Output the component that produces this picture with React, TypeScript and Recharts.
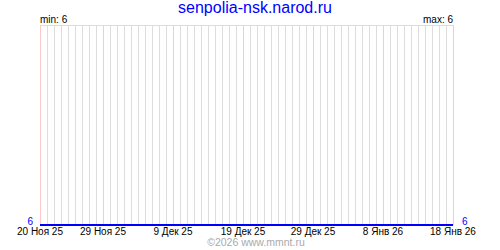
import React from "react"
import { LineChart, Line, XAxis, YAxis, ReferenceLine } from "recharts"

// daily counts, 20 Nov 25 .. 18 Jan 26
const values = [
  6, 6, 6, 6, 6, 6, 6, 6, 6, 6,
  6, 6, 6, 6, 6, 6, 6, 6, 6, 6,
  6, 6, 6, 6, 6, 6, 6, 6, 6, 6,
  6, 6, 6, 6, 6, 6, 6, 6, 6, 6,
  6, 6, 6, 6, 6, 6, 6, 6, 6, 6,
  6, 6, 6, 6, 6, 6, 6, 6, 6, 6,
]
const days = values.map((_, i) => i)
const tickDays = [0, 9, 19, 29, 39, 49, 59]
const tickLabels = ["20 Ноя 25", "29 Ноя 25", "9 Дек 25", "19 Дек 25", "29 Дек 25", "8 Янв 26", "18 Янв 26"]
const minValue = 6
const maxValue = 6

const data = days.map((d, i) => ({ day: d, v: values[i] }))
const font = "'Liberation Sans', Arial, sans-serif"

const LeftTick = ({ x, y, payload }: any) => (
  <text x={x} y={y} textAnchor="end" fill="#0000ff" fontSize={10} fontFamily={font}>
    {payload.value}
  </text>
)
const RightTick = ({ x, y, payload }: any) => (
  <text x={x} y={y} textAnchor="start" fill="#0000ff" fontSize={10} fontFamily={font}>
    {payload.value}
  </text>
)

// snap 1px lines onto the pixel grid
const CrispV = (p: any) => {
  const x = Math.round(p.x1) + 0.5
  return <line x1={x} x2={x} y1={p.y1} y2={p.y2} stroke={p.stroke} strokeWidth={1} />
}
const CrispH = (p: any) => {
  const y = Math.round(p.y1) + 0.5
  return <line x1={p.x1} x2={p.x2} y1={y} y2={y} stroke={p.stroke} strokeWidth={1} />
}

export default function App() {
  return (
    <div style={{ position: "absolute", left: 0, top: 0, width: 500, height: 250, background: "#fff" }}>
      <LineChart width={500} height={250} data={data} margin={{ top: 25, right: 0, bottom: 0, left: 0 }}>
        <XAxis
          dataKey="day"
          type="number"
          domain={[0, 59]}
          ticks={tickDays}
          interval={0}
          tickFormatter={(d) => tickLabels[tickDays.indexOf(d)]}
          axisLine={false}
          tickLine={false}
          tickSize={0}
          tickMargin={3}
          height={25}
          tick={{ fill: "#000", fontSize: 10, fontFamily: font }}
        />
        <YAxis
          yAxisId="l"
          domain={[6, 7]}
          ticks={[6]}
          width={40}
          axisLine={false}
          tickLine={false}
          tickSize={0}
          tickMargin={7}
          tick={<LeftTick />}
        />
        <YAxis
          yAxisId="r"
          orientation="right"
          domain={[6, 7]}
          ticks={[6]}
          width={47}
          axisLine={false}
          tickLine={false}
          tickSize={0}
          tickMargin={9}
          tick={<RightTick />}
        />
        {days.map((d) => (
          <ReferenceLine
            key={d}
            yAxisId="l"
            x={d}
            stroke={tickDays.includes(d) ? "#ffc8c8" : "#dddddd"}
            shape={CrispV}
          />
        ))}
        <ReferenceLine yAxisId="r" y={7} stroke="#dddddd" shape={CrispH} />
        <Line
          yAxisId="l"
          dataKey="v"
          stroke="#0000ff"
          strokeWidth={2}
          dot={false}
          isAnimationActive={false}
        />
        <Line
          yAxisId="r"
          dataKey="v"
          stroke="none"
          dot={false}
          activeDot={false}
          legendType="none"
          isAnimationActive={false}
        />
      </LineChart>
      <svg width={500} height={250} style={{ position: "absolute", left: 0, top: 0, pointerEvents: "none" }}>
        <text x={255} y={13} textAnchor="middle" fill="#0000ff" fontSize={16} fontFamily={font}>
          senpolia-nsk.narod.ru
        </text>
        <text x={40} y={23} fill="#000" fontSize={10} fontFamily={font}>
          {`min: ${minValue}`}
        </text>
        <text x={453} y={23} textAnchor="end" fill="#000" fontSize={10} fontFamily={font}>
          {`max: ${maxValue}`}
        </text>
        <text x={256} y={246} textAnchor="middle" fill="#aaaaaa" fontSize={10.5} fontFamily={font}>
          ©2026 www.mmnt.ru
        </text>
      </svg>
    </div>
  )
}
